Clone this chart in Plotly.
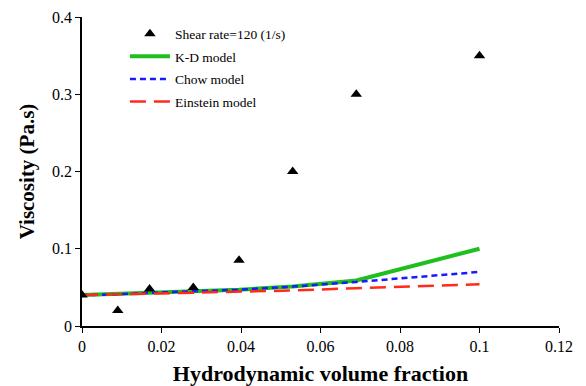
import plotly.graph_objects as go

phi = [0, 0.009, 0.017, 0.028, 0.0395, 0.053, 0.069, 0.1]
measured = [0.040, 0.020, 0.048, 0.050, 0.085, 0.200, 0.300, 0.350]
kd_model = [0.040, 0.041, 0.043, 0.045, 0.047, 0.051, 0.059, 0.100]
chow_model = [0.040, 0.041, 0.043, 0.045, 0.047, 0.051, 0.057, 0.070]
einstein_model = [0.040, 0.041, 0.042, 0.043, 0.044, 0.046, 0.049, 0.054]

x_ticks = [0, 0.02, 0.04, 0.06, 0.08, 0.1, 0.12]
x_labels = ["0", "0.02", "0.04", "0.06", "0.08", "0.1", "0.12"]
y_ticks = [0, 0.1, 0.2, 0.3, 0.4]
y_labels = ["0", "0.1", "0.2", "0.3", "0.4"]

serif = "Liberation Serif, Times New Roman, serif"

fig = go.Figure()
fig.add_trace(go.Scatter(x=phi, y=kd_model, mode="lines", name="K-D model",
                         line=dict(color="#1fbf1f", width=4), legendgroup="b"))
fig.add_trace(go.Scatter(x=phi, y=chow_model, mode="lines", name="Chow model",
                         line=dict(color="#1a1aff", width=2.5, dash="6px,4px"), legendgroup="c"))
fig.add_trace(go.Scatter(x=phi, y=einstein_model, mode="lines", name="Einstein model",
                         line=dict(color="#ff2a1a", width=2.5, dash="16px,8px"), legendgroup="d"))
fig.add_trace(go.Scatter(x=phi, y=measured, mode="markers", name="Shear rate=120 (1/s)",
                         marker=dict(symbol="triangle-up", color="black", size=10), legendgroup="a",
                         legendrank=1))

fig.update_layout(
    width=586, height=386,
    margin=dict(l=82, r=27, t=17, b=60),
    paper_bgcolor="white", plot_bgcolor="white",
    font=dict(family=serif, color="black"),
    showlegend=True,
    legend=dict(x=0.09, y=0.995, xanchor="left", yanchor="top",
                font=dict(size=13.5, family=serif), bgcolor="rgba(0,0,0,0)",
                traceorder="grouped", tracegroupgap=2, itemwidth=40),
    xaxis=dict(range=[0, 0.12], tickvals=x_ticks, ticktext=x_labels,
               showline=True, linecolor="black", linewidth=1.5, ticks="outside",
               tickcolor="black", ticklen=5, showgrid=False, zeroline=False,
               automargin=False,
               tickfont=dict(size=16, family=serif),
               title=dict(text="<b>Hydrodynamic volume fraction</b>",
                          font=dict(size=22, family=serif), standoff=16)),
    yaxis=dict(range=[0, 0.4], tickvals=y_ticks, ticktext=y_labels,
               showline=True, linecolor="black", linewidth=1.5, ticks="outside",
               tickcolor="black", ticklen=5, showgrid=False, zeroline=False,
               automargin=False,
               tickfont=dict(size=16, family=serif),
               title=dict(text="<b>Viscosity (Pa.s)</b>",
                          font=dict(size=21, family=serif), standoff=12)),
)

fig.write_html("out.html")
